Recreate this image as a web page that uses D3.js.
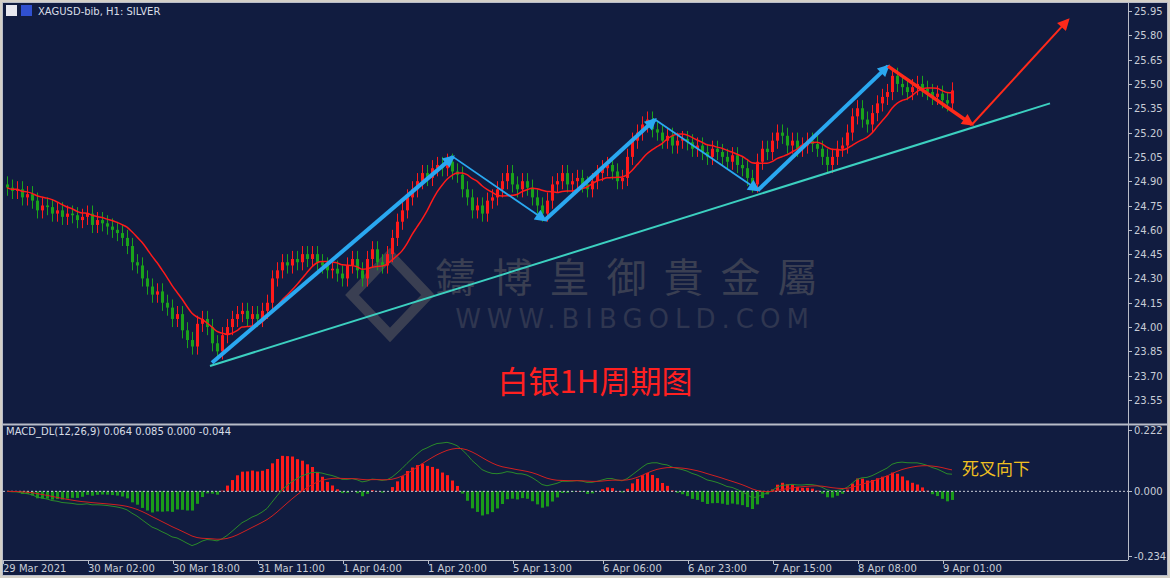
<!DOCTYPE html>
<html><head><meta charset="utf-8">
<script src="https://cdn.jsdelivr.net/npm/d3@7"></script>
<style>body{margin:0;background:#fff}svg{display:block}</style></head>
<body><svg id="c" width="1170" height="578"></svg>
<script>
const closes = [
24.86,24.84,24.85,24.80,24.82,24.78,24.72,24.75,24.74,24.70,
24.72,24.68,24.70,24.69,24.66,24.68,24.70,24.63,24.66,24.64,
24.62,24.60,24.58,24.55,24.50,24.40,24.38,24.30,24.25,24.20,
24.22,24.15,24.12,24.05,24.08,23.98,23.92,23.88,24.02,24.05,
24.00,23.90,23.85,23.95,24.00,24.05,24.08,24.10,24.05,24.08,
24.05,24.10,24.15,24.30,24.35,24.40,24.38,24.42,24.40,24.45,
24.42,24.45,24.40,24.38,24.35,24.36,24.33,24.30,24.38,24.42,
24.35,24.30,24.42,24.48,24.40,24.38,24.45,24.55,24.65,24.72,
24.80,24.85,24.90,24.95,24.92,24.98,25.00,24.98,25.02,24.96,
24.94,24.85,24.80,24.72,24.75,24.70,24.78,24.80,24.85,24.90,
24.95,24.88,24.85,24.90,24.86,24.80,24.75,24.70,24.78,24.88,
24.90,24.95,24.88,24.90,24.92,24.88,24.85,24.90,24.95,24.98,
25.00,24.96,24.90,24.92,25.05,25.15,25.20,25.25,25.28,25.22,
25.20,25.15,25.18,25.12,25.15,25.16,25.14,25.10,25.12,25.08,
25.05,25.10,25.08,25.05,25.02,25.06,25.00,24.98,24.92,24.88,
25.02,25.10,25.08,25.15,25.20,25.18,25.12,25.15,25.10,25.12,
25.15,25.13,25.10,25.05,25.00,25.05,25.10,25.12,25.20,25.30,
25.35,25.28,25.25,25.32,25.38,25.42,25.45,25.55,25.50,25.48,
25.45,25.48,25.50,25.47,25.45,25.42,25.44,25.40,25.38,25.46];
const priceTicks = [25.95,25.80,25.65,25.50,25.35,25.20,25.05,24.90,24.75,24.60,24.45,24.30,24.15,24.00,23.85,23.70,23.55];
const timeLabels = [[0,"29 Mar 2021"],[17,"30 Mar 02:00"],[34,"30 Mar 18:00"],[51,"31 Mar 11:00"],[68,"1 Apr 04:00"],[85,"1 Apr 20:00"],[102,"5 Apr 13:00"],[120,"6 Apr 06:00"],[137,"6 Apr 23:00"],[154,"7 Apr 15:00"],[171,"8 Apr 08:00"],[188,"9 Apr 01:00"]];
const macdTicks = [0.222,0.000,-0.234];
const blueThick = [[[41,23.78],[89.2,25.05]],[[107.6,24.66],[129.6,25.28]],[[150.2,24.845],[176.2,25.61]]];
const blueThin = [[[89.2,25.05],[107.6,24.66]],[[129.6,25.28],[150.2,24.845]]];
const redThick = [[176.2,25.61],[193,25.25]];
const redThin = [[193,25.25],[212.2,25.895]];
const trend = [[40.6,23.76],[208.6,25.38]];

const svg = d3.select("#c");
const BG = "#111c40";
svg.append("rect").attr("width",1170).attr("height",578).attr("fill","#d4d0c8");
svg.append("rect").attr("x",2).attr("y",2).attr("width",1166).attr("height",574).attr("fill",BG);
const x = d3.scaleLinear().domain([0,1]).range([7,12]);
const y = d3.scaleLinear().domain([23.55,25.95]).range([400,11]);
const ym = d3.scaleLinear().domain([-0.234,0.222]).range([556,430]);
const font = "Tahoma, 'DejaVu Sans', sans-serif";

const fr = svg.append("g").attr("fill","none").attr("stroke","#b8bcc8");
fr.append("line").attr("x1",1128.5).attr("x2",1128.5).attr("y1",3).attr("y2",560);
fr.append("line").attr("x1",3).attr("x2",1168).attr("y1",424.5).attr("y2",424.5).attr("stroke-width",2);
fr.append("line").attr("x1",3).attr("x2",1128).attr("y1",560.5).attr("y2",560.5);
fr.append("rect").attr("x",2.5).attr("y",2.5).attr("width",1165).attr("height",573);

svg.append("text").attr("x",635).attr("y",292).attr("text-anchor","middle").attr("font-size",40)
 .attr("font-family","'Noto Sans CJK TC'").attr("fill","#3a3f52").attr("letter-spacing",17).text("鑄博皇御貴金屬");
svg.append("text").attr("x",635).attr("y",328).attr("text-anchor","middle").attr("font-size",26)
 .attr("font-family","'DejaVu Sans'").attr("fill","#2f3650").attr("letter-spacing",6).text("WWW.BIBGOLD.COM");
svg.append("path").attr("d","M390,255 L428,295 L390,335 L352,295 Z").attr("fill","none").attr("stroke","#3a3f52").attr("stroke-width",10);

const pa = svg.append("g");
priceTicks.forEach(t=>{
  pa.append("line").attr("x1",1128).attr("x2",1132).attr("y1",Math.round(y(t))+.5).attr("y2",Math.round(y(t))+.5).attr("stroke","#b8bcc8");
  pa.append("text").attr("x",1134).attr("y",y(t)+4).attr("font-size",10).attr("font-family",font).attr("fill","#c8ccd6").text(t.toFixed(2));
});
macdTicks.forEach(t=>{
  pa.append("line").attr("x1",1128).attr("x2",1132).attr("y1",Math.round(ym(t))+.5).attr("y2",Math.round(ym(t))+.5).attr("stroke","#b8bcc8");
  pa.append("text").attr("x",1134).attr("y",ym(t)+4).attr("font-size",10).attr("font-family",font).attr("fill","#c8ccd6").text(t.toFixed(3));
});
timeLabels.forEach(([i,l])=>{
  const xx = Math.round(x(i))-4;
  pa.append("line").attr("x1",xx+.5).attr("x2",xx+.5).attr("y1",560).attr("y2",564).attr("stroke","#b8bcc8");
  pa.append("text").attr("x",Math.max(3,xx)).attr("y",572).attr("font-size",10).attr("font-family",font).attr("fill","#c8ccd6").text(l);
});

const cg = svg.append("g");
closes.forEach((c,i)=>{
  const o = i?closes[i-1]:c+0.02;
  const up = c>=o, col = up?"#ff1a1a":"#1aa31a";
  const hi=Math.max(o,c)+0.05, lo=Math.min(o,c)-0.05;
  const xx=Math.round(x(i))+.5;
  cg.append("line").attr("x1",xx).attr("x2",xx).attr("y1",y(hi)).attr("y2",y(lo)).attr("stroke",col);
  cg.append("rect").attr("x",xx-1.5).attr("width",3).attr("y",y(Math.max(o,c))).attr("height",Math.max(1,y(Math.min(o,c))-y(Math.max(o,c)))).attr("fill",col);
});
const ma = closes.map((c,i)=>{const s=closes.slice(Math.max(0,i-9),i+1);return d3.mean(s);});
svg.append("path").attr("d",d3.line().x((d,i)=>x(i)).y(d=>y(d)).curve(d3.curveMonotoneX)(ma)).attr("fill","none").attr("stroke","#ff1a1a").attr("stroke-width",1.5);

const defs = svg.append("defs");
function mk(id,col){defs.append("marker").attr("id",id).attr("viewBox","0 0 10 10").attr("refX",8).attr("refY",5).attr("orient","auto").attr("markerUnits","userSpaceOnUse").attr("markerWidth",16).attr("markerHeight",12).append("path").attr("d","M0,0 L10,5 L0,10 Z").attr("fill",col);}
mk("ab","#2aa8f0"); mk("ar","#ff2a1a");
const seg=(p,col,w,m)=>svg.append("line").attr("x1",x(p[0][0])).attr("y1",y(p[0][1])).attr("x2",x(p[1][0])).attr("y2",y(p[1][1])).attr("stroke",col).attr("stroke-width",w).attr("marker-end",m?`url(#${m})`:null);
seg(trend,"#3cd0c0",2);
blueThick.forEach(p=>seg(p,"#2aa8f0",4,"ab"));
blueThin.forEach(p=>seg(p,"#2aa8f0",1.8,"ab"));
seg(redThick,"#ff2a1a",3.5,"ar");
seg(redThin,"#ff2a1a",2,"ar");

function ema(a,n){const k=2/(n+1);let e=a[0];return a.map(v=>e=v*k+e*(1-k));}
const e12=ema(closes,12), e26=ema(closes,26);
const macd=e12.map((v,i)=>v-e26[i]);
const sig=ema(macd,9);
const hist=macd.map((v,i)=>(v-sig[i])*2);
const mg=svg.append("g");
hist.forEach((h,i)=>{
  const xx=Math.round(x(i))-1;
  mg.append("rect").attr("x",xx).attr("width",3).attr("y",Math.min(ym(h),ym(0))).attr("height",Math.abs(ym(h)-ym(0))).attr("fill",h>=0?"#ff1a1a":"#1a9a1a");
});
svg.append("line").attr("x1",3).attr("x2",1128).attr("y1",ym(0)).attr("y2",ym(0)).attr("stroke","#c8ccd6").attr("stroke-dasharray","2,2");
svg.append("path").attr("d",d3.line().x((d,i)=>x(i)).y(d=>ym(d))(macd)).attr("fill","none").attr("stroke","#2a8a2a");
svg.append("path").attr("d",d3.line().x((d,i)=>x(i)).y(d=>ym(d))(sig)).attr("fill","none").attr("stroke","#d02020");

svg.append("text").attr("x",6).attr("y",435).attr("font-size",10).attr("font-family",font).attr("fill","#d8dce6").text("MACD_DL(12,26,9) 0.064 0.085 0.000 -0.044");
svg.append("rect").attr("x",6).attr("y",5).attr("width",11).attr("height",11).attr("fill","#e8e8f0");
svg.append("rect").attr("x",21).attr("y",5).attr("width",11).attr("height",11).attr("fill","#3050d0");
svg.append("text").attr("x",38).attr("y",15).attr("font-size",10).attr("font-family",font).attr("fill","#d8dce6").text("XAGUSD-bib, H1:  SILVER");
svg.append("text").attr("x",595).attr("y",393).attr("text-anchor","middle").attr("font-size",31).attr("font-family","'Noto Sans CJK SC'").attr("fill","#ff2020").text("白银1H周期图");
svg.append("text").attr("x",962).attr("y",475).attr("font-size",17).attr("font-family","'Noto Sans CJK SC'").attr("fill","#f0c020").text("死叉向下");
</script></body></html>
